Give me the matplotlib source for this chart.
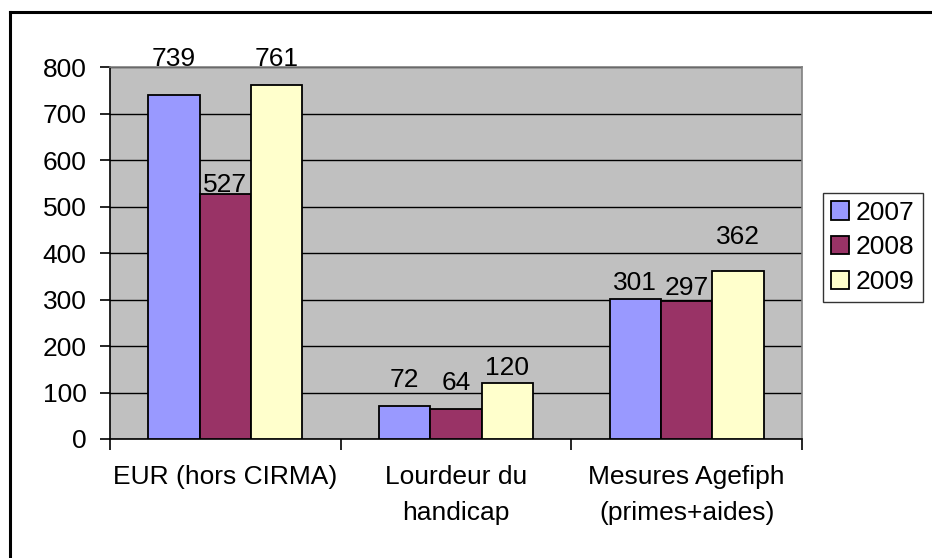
import matplotlib
matplotlib.use("Agg")
import matplotlib.pyplot as plt
import numpy as np
from matplotlib.lines import Line2D

categories = ["EUR (hors CIRMA)", "Lourdeur du\nhandicap", "Mesures Agefiph\n(primes+aides)"]
series_names = ["2007", "2008", "2009"]
values_2007 = [739, 72, 301]
values_2008 = [527, 64, 297]
values_2009 = [761, 120, 362]
y_ticks = [0, 100, 200, 300, 400, 500, 600, 700, 800]

# label offsets (pixels above bar top) - styling
label_offsets = [[29, 19, 9], [2, 19, 6], [19, 8, 27]]

colors = ["#9999FF", "#993366", "#FFFFCC"]

plt.rcParams['font.family'] = ['Liberation Sans', 'DejaVu Sans']
FS = 19

W, H = 932, 558
fig = plt.figure(figsize=(W / 100, H / 100), dpi=100)
fig.patch.set_facecolor("white")

# figure border (top and left visible)
fig.add_artist(Line2D([10 / W, 1.01], [1 - 12 / H, 1 - 12 / H], transform=fig.transFigure, color="black", lw=2.2))
fig.add_artist(Line2D([10 / W, 10 / W], [1 - 12 / H, -0.01], transform=fig.transFigure, color="black", lw=2.2))

ax = fig.add_axes([110 / W, (H - 439) / H, 692 / W, 372 / H])
ax.set_facecolor("#C0C0C0")

n = len(categories)
x = np.arange(n)
bw = 1 / (3 + 1.5)
all_vals = [values_2007, values_2008, values_2009]
for i, (vals, c, name) in enumerate(zip(all_vals, colors, series_names)):
    pos = x + (i - 1) * bw
    ax.bar(pos, vals, width=bw, color=c, edgecolor="black", linewidth=1.3, label=name, zorder=3)
    for j, (p, v) in enumerate(zip(pos, vals)):
        ax.annotate(str(v), xy=(p, v), xytext=(0, label_offsets[i][j] * 0.72),
                    textcoords="offset points", ha="center", va="baseline",
                    fontsize=FS, color="black", zorder=5, annotation_clip=False)

ax.set_xlim(-0.5, n - 0.5)
ax.set_ylim(0, 800)
ax.set_yticks(y_ticks)
ax.set_yticklabels([str(t) for t in y_ticks], fontsize=FS)
ax.yaxis.grid(True, color="black", linewidth=1.0, zorder=1)
ax.set_axisbelow(True)

ax.set_xticks(np.arange(n + 1) - 0.5, minor=False)
ax.set_xticklabels([""] * (n + 1))
ax.set_xticks(x, minor=True)
ax.set_xticklabels(categories, minor=True, fontsize=FS, linespacing=1.6)
ax.tick_params(axis="x", which="minor", length=0, pad=19)
ax.tick_params(axis="x", which="major", length=8, width=1.2, direction="out")
ax.tick_params(axis="y", length=7, width=1.2, direction="out", pad=10)

for s in ["top", "right"]:
    ax.spines[s].set_color("#808080")
    ax.spines[s].set_linewidth(1.2)
for s in ["left", "bottom"]:
    ax.spines[s].set_color("black")
    ax.spines[s].set_linewidth(1.2)

leg = fig.legend(loc="upper left", bbox_to_anchor=(823 / W, 1 - 193 / H), fontsize=FS,
                 frameon=True, fancybox=False, shadow=False, edgecolor="black",
                 handlelength=0.7, handleheight=0.7, handletextpad=0.25,
                 labelspacing=0.4, borderpad=0.3, borderaxespad=0)
leg.get_frame().set_linewidth(1.0)
leg.get_frame().set_facecolor("white")

fig.savefig("out.png", dpi=100, facecolor="white")
